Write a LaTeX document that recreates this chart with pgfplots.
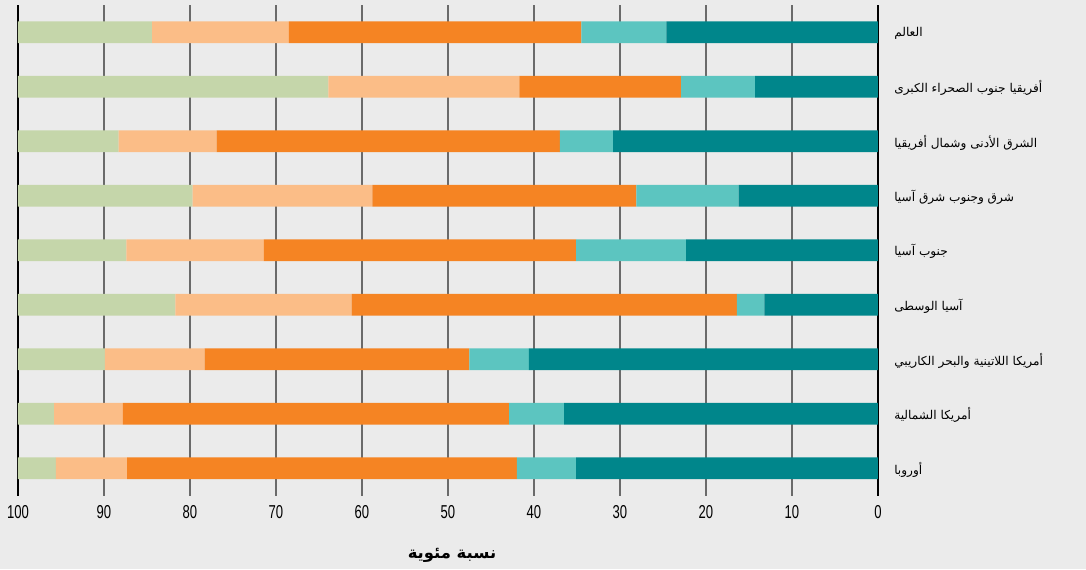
\documentclass[border=0pt]{standalone}
\usepackage{pgfplots}
\pgfplotsset{compat=1.18}
\usepackage{pgfplotstable}
\usepackage{graphicx}
\usepackage{fontspec}
\setmainfont{Liberation Sans}
\newfontfamily\arabicfont[Script=Arabic]{DejaVu Sans}
\TeXXeTstate=1
\definecolor{bgc}{HTML}{EBEBEB}
\definecolor{dteal}{HTML}{00868B}
\definecolor{lteal}{HTML}{5CC5C0}
\definecolor{corange}{HTML}{F58423}
\definecolor{lorange}{HTML}{FBBD87}
\definecolor{cgreen}{HTML}{C5D6AA}
\definecolor{gridc}{HTML}{6A6A6A}
\pgfplotstableread{
y dteal lteal orange lorange green
8 24.6 9.9 34.0 15.9 15.6
7 14.3 8.6 18.8 22.2 36.1
6 30.8 6.2 39.9 11.4 11.7
5 16.2 11.9 30.7 20.9 20.3
4 22.3 12.8 36.3 16.0 12.6
3 13.2 3.2 44.8 20.5 18.3
2 40.6 6.9 30.8 11.6 10.1
1 36.5 6.4 44.9 8.0 4.2
0 35.1 6.9 45.3 8.3 4.4
}\datatable
\begin{document}
\begin{tikzpicture}
\fill[bgc] (0,0) rectangle (814.5pt,426.75pt);
\begin{axis}[
  at={(13.5pt,55.1pt)}, anchor=south west,
  scale only axis, width=645pt, height=367.9pt,
  xbar stacked, bar width=0.4,
  x dir=reverse, xmin=0, xmax=100,
  ymin=-0.5, ymax=8.5,
  xtick={10,20,...,90}, 
  extra x ticks={0,100},
  extra x tick style={grid style={black, line width=1.5pt}},
  xmajorgrids, grid style={gridc, line width=0.8pt},
  major tick length=0pt,
  axis line style={draw=none},
  /pgf/number format/assume math mode=true,
  xticklabel={\scalebox{0.7}[1]{\pgfmathprintnumber{\tick}}},
  xticklabel style={anchor=north, inner sep=0pt, yshift=-7pt, font=\fontsize{14}{14}\selectfont},
  ytick={0,...,8},
  yticklabel pos=right,
  yticklabels={
    {\arabicfont\beginR أوروبا\endR},
    {\arabicfont\beginR أمريكا الشمالية\endR},
    {\arabicfont\beginR أمريكا اللاتينية والبحر الكاريبي\endR},
    {\arabicfont\beginR آسيا الوسطى\endR},
    {\arabicfont\beginR جنوب آسيا\endR},
    {\arabicfont\beginR شرق وجنوب شرق آسيا\endR},
    {\arabicfont\beginR الشرق الأدنى وشمال أفريقيا\endR},
    {\arabicfont\beginR أفريقيا جنوب الصحراء الكبرى\endR},
    {\arabicfont\beginR العالم\endR}},
  yticklabel style={anchor=west, inner sep=0pt, xshift=12pt, yshift=-1pt, font=\fontsize{9.1}{11}\selectfont},
  xlabel={\arabicfont\bfseries\beginR نسبة مئوية\endR},
  xlabel style={at={(axis description cs:0.5,0)}, anchor=center, yshift=-45pt, xshift=3pt, font=\fontsize{12.3}{13}\selectfont},
]
\addplot[fill=dteal, draw=none] table[x=dteal, y=y] {\datatable};
\addplot[fill=lteal, draw=none] table[x=lteal, y=y] {\datatable};
\addplot[fill=corange, draw=none] table[x=orange, y=y] {\datatable};
\addplot[fill=lorange, draw=none] table[x=lorange, y=y] {\datatable};
\addplot[fill=cgreen, draw=none] table[x=green, y=y] {\datatable};
\end{axis}
\pgfresetboundingbox
\path (0,0) rectangle (814.5pt,426.75pt);
\end{tikzpicture}
\end{document}
